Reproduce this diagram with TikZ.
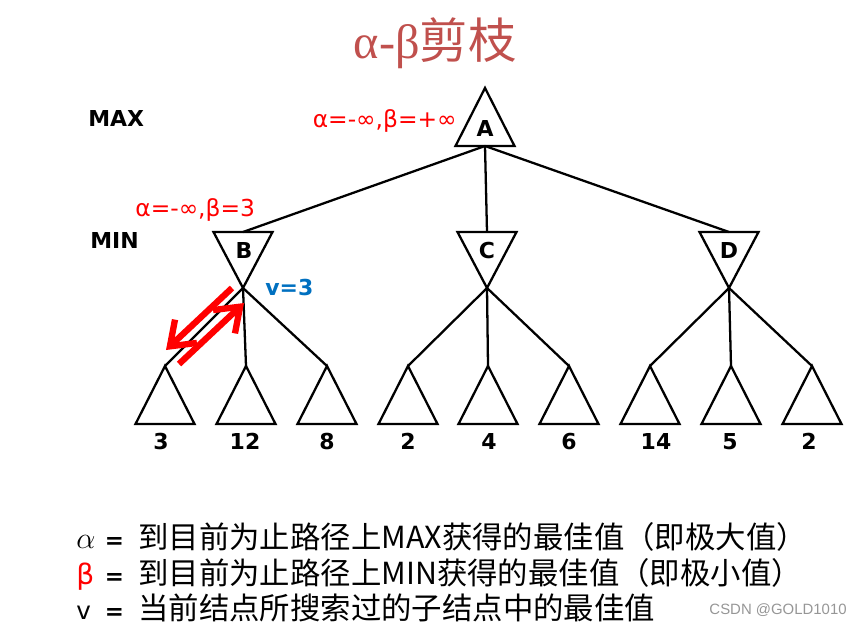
\documentclass[tikz,border=0pt]{standalone}
\usepackage{fontspec}
\setmainfont{DejaVu Sans}
\newfontfamily\cjk{Noto Sans CJK SC}
\newfontfamily\grk{Liberation Serif}
\newfontfamily\wmark{Liberation Sans}
\usetikzlibrary{shapes.geometric,arrows.meta,calc}
\definecolor{titlered}{RGB}{192,80,77}
\definecolor{vblue}{RGB}{0,112,192}
\definecolor{wgray}{RGB}{150,150,150}

\tikzset{
  maxtri/.style={draw,isosceles triangle,isosceles triangle stretches,shape border rotate=90,
    minimum width=1.18cm,minimum height=1.16cm,inner sep=0pt,outer sep=0pt,line width=1.3pt},
  mintri/.style={maxtri,shape border rotate=270,minimum height=1.12cm},
  edge/.style={line width=1.3pt},
  letter/.style={font=\bfseries\fontsize{12.5}{14}\selectfont,inner sep=0pt},
  bound/.style={red,font=\fontsize{13.3}{15}\selectfont,inner sep=0pt},
  sweep/.style={red,line width=3.6pt,-{Straight Barb[length=4.4mm,width=6.4mm]}},
  legend/.style={anchor=base west,inner sep=0pt,font=\fontsize{17.3}{20}\selectfont},
}

\begin{document}
\begin{tikzpicture}[x={(0.02cm,0cm)},y={(0cm,-0.02cm)}]
  \useasboundingbox (0,0) rectangle (861,626);
  % title
  \node[titlered,anchor=base,inner sep=0pt,font=\fontsize{27.5}{30}\selectfont] (title) at (435,58)
    {{\grk α-β}{\cjk 剪枝}};
  % level names
  \node[letter,anchor=base west] (maxlvl) at (88,126) {MAX};
  \node[letter,anchor=base west] (minlvl) at (90,248) {MIN};
  % root and MIN nodes
  \node[maxtri,anchor=apex] (A) at (485,88) {};
  \node[mintri,anchor=apex] (B) at (243,288) {};
  \node[mintri,anchor=apex] (C) at (487,288) {};
  \node[mintri,anchor=apex] (D) at (729,288) {};
  \node[letter] (Aname) at (485,128) {A};
  \node[letter] (Bname) at (244,250) {B};
  \node[letter] (Cname) at (487,250) {C};
  \node[letter] (Dname) at (729,250) {D};
  \foreach \m in {B,C,D}
    \draw[edge] (A.lower side) -- (\m.lower side);
  % leaves: apex x / label x / value / parent
  \foreach \i/\x/\lx/\val/\p in {1/165/161/3/B,2/246/245/12/B,3/327/327/8/B,
      4/408/408/2/C,5/488/489/4/C,6/569/569/6/C,7/650/656/14/D,8/731/730/5/D,9/812/809/2/D}{
    \node[maxtri,anchor=apex] (leaf\i) at (\x,366) {};
    \node[letter,anchor=base] (val\i) at (\lx,449) {\val};
    \draw[edge] (\p.apex) -- (leaf\i.apex);
  }
  % alpha beta bounds and v
  \node[bound,anchor=base east] (rootab) at (457,127) {α=-∞,β=+∞};
  \node[bound,anchor=base west] (bab) at (135,216) {α=-∞,β=3};
  \node[letter,vblue,anchor=base west] (bv) at (265,295) {v=3};
  % search down and back up
  \coordinate (downs) at (232,288);
  \coordinate (downe) at (166,350);
  \coordinate (ups) at (179,364);
  \coordinate (upe) at (244,303);
  \draw[sweep] (downs) -- (downe);
  \draw[sweep] (ups) -- (upe);
  % legend
  \node[legend] (lega) at (76,548)
    {\makebox[0.5cm][l]{$\alpha$}\makebox[0.52cm]{\bfseries\fontsize{13}{14}\selectfont =}\hspace{0.22cm}{\cjk 到目前为止路径上MAX获得的最佳值（即极大值）}};
  \node[legend] (legb) at (76,584)
    {\makebox[0.5cm][l]{\color{red}\fontsize{16}{18}\selectfont β}\makebox[0.52cm]{\bfseries\fontsize{13}{14}\selectfont =}\hspace{0.22cm}{\cjk 到目前为止路径上MIN获得的最佳值（即极小值）}};
  \node[legend] (legv) at (76,619)
    {\makebox[0.5cm][l]{\fontsize{14}{16}\selectfont v}\makebox[0.52cm]{\bfseries\fontsize{13}{14}\selectfont =}\hspace{0.22cm}{\cjk 当前结点所搜索过的子结点中的最佳值}};
  \node[wgray,anchor=east,inner sep=0pt,font=\wmark\fontsize{8.5}{10}\selectfont] (csdn) at (847,610) {CSDN @GOLD1010};
\end{tikzpicture}
\end{document}
